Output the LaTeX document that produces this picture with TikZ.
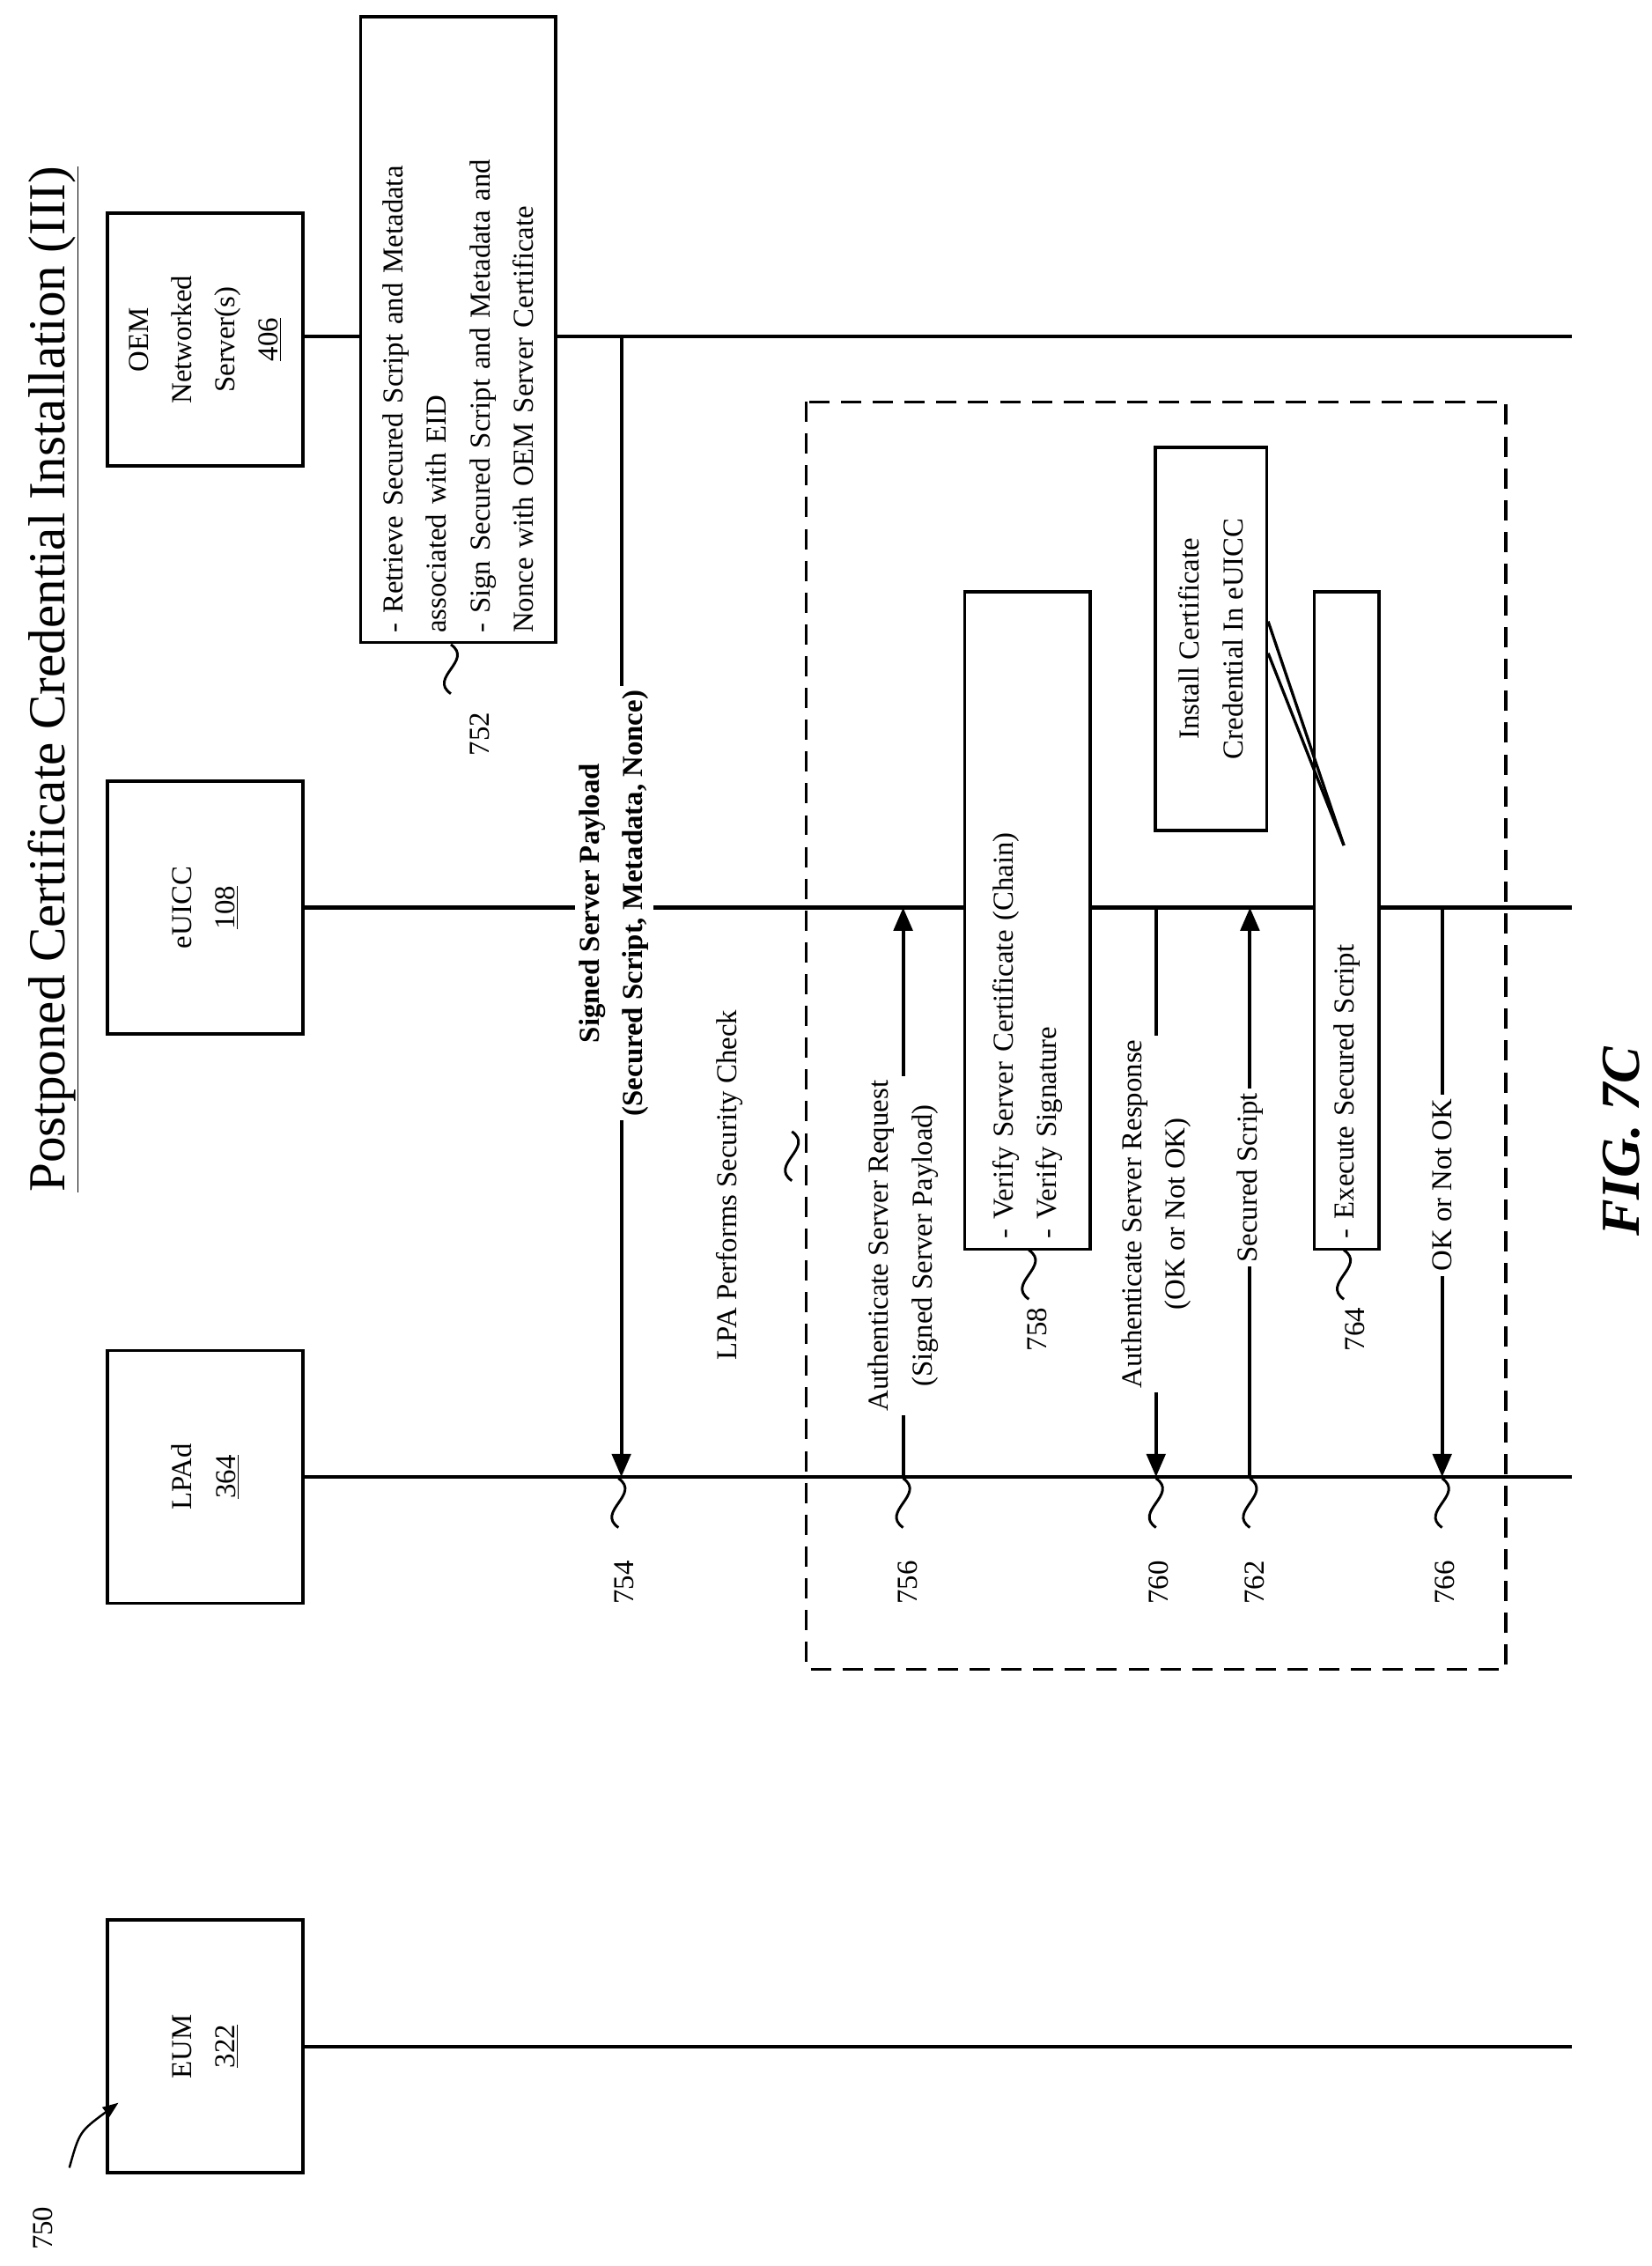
\documentclass[tikz,border=0pt]{standalone}
\usepackage{fontspec}
\setmainfont{Liberation Serif}
\usetikzlibrary{positioning}
\usetikzlibrary{arrows.meta}

\tikzset{
	actor/.style={draw,line width=2.2pt,rotate=90,minimum width=175pt,minimum height=135pt,align=center,font=\fontsize{20}{30}\selectfont,fill=white},
	note/.style={draw,line width=2.2pt,rotate=90,align=left,font=\fontsize{20}{30}\selectfont,fill=white,inner sep=6pt},
	lbl/.style={rotate=90,align=center,font=\fontsize{20}{30}\selectfont,fill=white,inner sep=3pt},
	ref/.style={rotate=90,font=\fontsize{20}{22}\selectfont},
	life/.style={line width=2.5pt},
	msg/.style={line width=2.5pt,-{Triangle[length=16pt,width=13pt]}}
}
\newcommand{\squig}[2]{\draw[line width=1.8pt] (#1,#2-17) .. controls (#1+16,#2-6) and (#1-16,#2+6) .. (#1,#2+17);}

\begin{document}
\begin{tikzpicture}[x=1pt,y=-1pt]
	\useasboundingbox (0,0) rectangle (1143,1568);
	% title
	\node[rotate=90,font=\fontsize{36}{40}\selectfont] (title) at (37,470) {\underline{Postponed Certificate Credential Installation (III)}};
	% lifelines
	\coordinate (oemEnd) at (1088,233);
	\coordinate (euiccEnd) at (1088,628);
	\coordinate (lpadEnd) at (1088,1022);
	\coordinate (eumEnd) at (1088,1416);
	\draw[life] (142,233) -- (oemEnd);
	\draw[life] (142,628) -- (euiccEnd);
	\draw[life] (142,1022) -- (lpadEnd);
	\draw[life] (142,1416) -- (eumEnd);
	\node[actor] (oem) at (142,235) {OEM\\Networked\\Server(s)\\\underline{406}};
	\node[actor] (euicc) at (142,628) {eUICC\\\underline{108}};
	\node[actor] (lpad) at (142,1022) {LPAd\\\underline{364}};
	\node[actor] (eum) at (142,1416) {EUM\\\underline{322}};
	% 750
	\node[ref] (fig750) at (30,1542) {750};
	\coordinate (a750s) at (48,1500);
	\coordinate (a750e) at (82,1455);
	\draw[line width=1.5pt,-{Triangle[length=11pt,width=8pt]}] (a750s) .. controls (55,1475) .. (a750e);
	% 752
	\node[note,minimum width=433pt,minimum height=135pt,text width=420pt] (n752) at (317,228) {- Retrieve Secured Script and Metadata\\associated with EID\\- Sign Secured Script and Metadata and\\Nonce with OEM Server Certificate};
	\squig{312}{463}
	\node[ref] (r752) at (332,508) {752};
	% 754
	\coordinate (m754s) at (430,233);
	\coordinate (m754e) at (430,1022);
	\draw[msg] (m754s) -- (m754e);
	\node[lbl,font=\bfseries\fontsize{20}{30}\selectfont] (l754) at (425,625) {Signed Server Payload\\(Secured Script, Metadata, Nonce)};
	\squig{428}{1040}
	\node[ref] (r754) at (432,1095) {754};
	% security check
	\draw[line width=2pt,dash pattern=on 14pt off 8pt] (558,278) rectangle (1042,1155);
	\node[lbl,fill=none] (lpa) at (505,820) {LPA Performs Security Check};
	\squig{548}{800}
	% 756
	\coordinate (m756s) at (625,1022);
	\coordinate (m756e) at (625,628);
	\draw[msg] (m756s) -- (m756e);
	\node[lbl] (l756) at (625,862) {Authenticate Server Request\\(Signed Server Payload)};
	\squig{625}{1040}
	\node[ref] (r756) at (628,1095) {756};
	% 758
	\node[note,minimum width=455pt,minimum height=87pt,text width=440pt] (n758) at (711,637) {- Verify Server Certificate (Chain)\\- Verify Signature};
	\squig{712}{882}
	\node[ref] (r758) at (718,920) {758};
	% 760
	\coordinate (m760s) at (800,628);
	\coordinate (m760e) at (800,1022);
	\draw[msg] (m760s) -- (m760e);
	\node[lbl] (l760) at (800,840) {Authenticate Server Response\\(OK or Not OK)};
	\squig{800}{1040}
	\node[ref] (r760) at (802,1095) {760};
	% install
	\node[draw,line width=2.2pt,rotate=90,align=center,font=\fontsize{20}{30}\selectfont,fill=white,minimum width=265pt,minimum height=77pt] (inst) at (838,442) {Install Certificate\\Credential In eUICC};
	% 762
	\coordinate (m762s) at (865,1022);
	\coordinate (m762e) at (865,628);
	\draw[msg] (m762s) -- (m762e);
	\node[lbl] (l762) at (865,815) {Secured Script};
	\squig{865}{1040}
	\node[ref] (r762) at (868,1095) {762};
	% 764
	\node[note,minimum width=455pt,minimum height=45pt,text width=440pt,inner sep=2pt] (n764) at (932,637) {- Execute Secured Script};
	\coordinate (tip764) at (930,585);
	\draw[line width=2pt] (inst.south) ++(0,-12) coordinate (c1) (c1) -- (tip764);
	\draw[line width=2pt] (inst.south) ++(0,10) coordinate (c2) (c2) -- (tip764);
	\squig{930}{882}
	\node[ref] (r764) at (938,920) {764};
	% 766
	\coordinate (m766s) at (998,628);
	\coordinate (m766e) at (998,1022);
	\draw[msg] (m766s) -- (m766e);
	\node[lbl] (l766) at (998,820) {OK or Not OK};
	\squig{998}{1040}
	\node[ref] (r766) at (1000,1095) {766};
	% figure label
	\node[rotate=90,font=\bfseries\itshape\fontsize{38}{40}\selectfont] (fig) at (1122,790) {FIG. 7C};
\end{tikzpicture}
\end{document}
